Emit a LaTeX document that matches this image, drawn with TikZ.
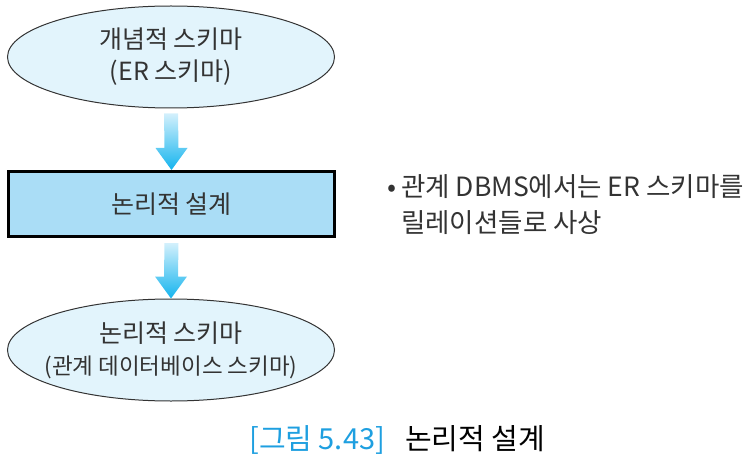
\documentclass[tikz,border=0pt]{standalone}
\usepackage{fontspec}
\setmainfont{Noto Sans CJK KR}
\usetikzlibrary{arrows.meta,positioning,shapes.geometric,calc}
\definecolor{schemafill}{HTML}{E2F4FC}
\definecolor{designfill}{HTML}{AADDF6}
\definecolor{arrowtop}{HTML}{D3F0FC}
\definecolor{arrowbot}{HTML}{14B4EE}
\definecolor{captionblue}{HTML}{1E9FE0}
\definecolor{textgray}{HTML}{333333}
\newcommand{\flowarrow}[2]{%
	\shade[top color=arrowtop, bottom color=arrowbot]
	($(#1.south)+(-7,5)$) -- ($(#2.north)+(-7,-22)$) -- ($(#2.north)+(-16,-22)$)
	-- (#2.north) -- ($(#2.north)+(16,-22)$) -- ($(#2.north)+(7,-22)$)
	-- ($(#1.south)+(7,5)$) -- cycle;}

\begin{document}
\begin{tikzpicture}[
	x=1pt, y=-1pt,
	every node/.style={font=\fontsize{25}{32}\selectfont, text=textgray},
	schema/.style={ellipse, draw=textgray, line width=1pt, fill=schemafill,
		minimum width=327pt, minimum height=102pt, inner xsep=-60pt, inner ysep=0pt,
		align=center},
	design/.style={draw=black, line width=3pt, fill=designfill,
		minimum width=326pt, minimum height=65pt, inner sep=0pt},
	plain/.style={anchor=west, inner sep=0pt, align=left}
	]
	\useasboundingbox (0,0) rectangle (754,465);
	
	%--- schemas and design step ---
	\node[schema] (concept) at (171,57) {개념적 스키마\\(ER 스키마)};
	\node[design] (design) at (171.5,204) {논리적 설계};
	\node[schema] (logical) at (171,350)
	{논리적 스키마\\{\fontsize{22.5}{32}\selectfont(관계 데이터베이스 스키마)}};
	
	%--- flow arrows ---
	\flowarrow{concept}{design}
	\flowarrow{design}{logical}
	
	%--- note on the right ---
	\node[plain, font=\fontsize{26.5}{36}\selectfont] (note) at (387,205)
	{•\hspace{5pt}관계 DBMS에서는 ER 스키마를\\\hphantom{•\hspace{5pt}}릴레이션들로 사상};
	
	%--- caption ---
	\node[plain, font=\fontsize{29}{30}\selectfont, text=black] (caption) at (249,440)
	{\textcolor{captionblue}{[그림 5.43]}\hspace{20pt}논리적 설계};
	
\end{tikzpicture}
\end{document}
